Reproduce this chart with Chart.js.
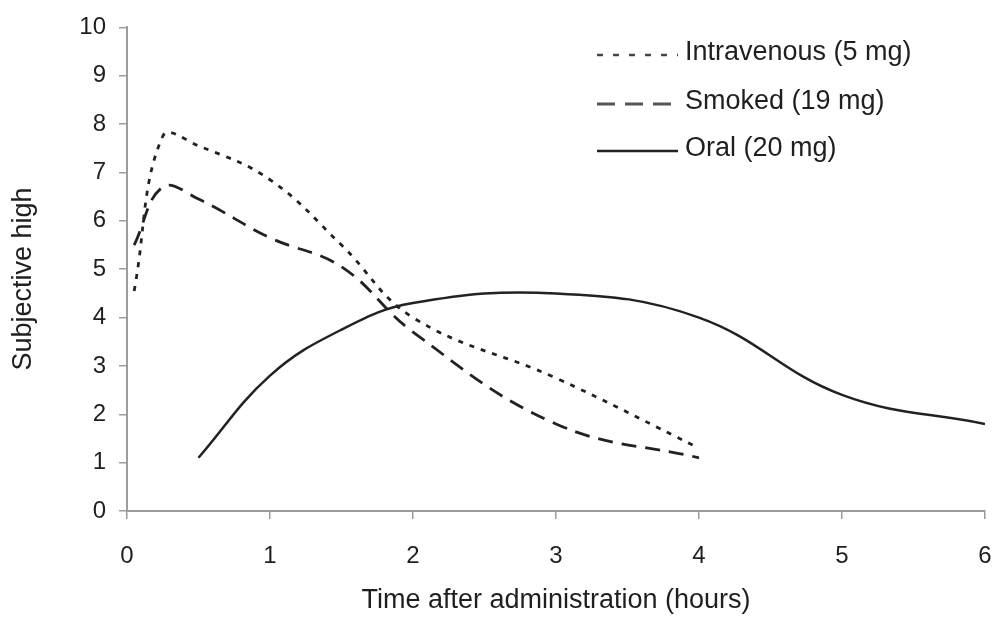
<!DOCTYPE html>
<html>
<head>
<meta charset="utf-8">
<title>Subjective high after administration</title>
<script src="https://cdn.jsdelivr.net/npm/chart.js@4.4.1/dist/chart.umd.min.js"></script>
<style>
  html, body { margin: 0; padding: 0; background: #ffffff; }
  #wrap { width: 998px; height: 617px; position: relative; }
</style>
</head>
<body>
<div id="wrap"><canvas id="chart"></canvas></div>
<script>
// Time points (hours) and mean subjective "high" ratings for each route
const ivTimes = [0.05, 0.25, 0.5, 1, 1.5, 2, 3, 4];
const ivHigh = [4.55, 7.75, 7.55, 6.85, 5.5, 4.0, 2.75, 1.3];

const smokedTimes = [0.05, 0.25, 0.5, 1, 1.5, 2, 3, 4];
const smokedHigh = [5.5, 6.7, 6.45, 5.65, 5.05, 3.7, 1.8, 1.1];

const oralTimes = [0.5, 1, 1.5, 2, 3, 4, 5, 6];
const oralHigh = [1.1, 2.8, 3.75, 4.3, 4.5, 4.0, 2.4, 1.8];

const seriesNames = ['Intravenous (5 mg)', 'Smoked (19 mg)', 'Oral (20 mg)'];
const xTitle = 'Time after administration (hours)';
const yTitle = 'Subjective high';
const xTicks = [0, 1, 2, 3, 4, 5, 6];
const yTicks = [0, 1, 2, 3, 4, 5, 6, 7, 8, 9, 10];

const FONT = "'Liberation Sans', Arial, Helvetica, sans-serif";
const TEXT = '#1f1f1f';
const AXIS = '#9c9c9c';

const toPoints = (xs, ys) => xs.map((x, i) => ({ x: x, y: ys[i] }));

// Legend drawn as a stacked list in the upper right of the plot,
// plus the vertical axis title placed beside the value axis
const legendStyles = [
  { dash: [6, 10], color: '#444444', width: 2.5 },
  { dash: [18, 10], color: '#555555', width: 3 },
  { dash: [], color: '#222222', width: 2.5 }
];
const annotations = {
  id: 'annotations',
  afterDraw(chart) {
    const ctx = chart.ctx;
    const rows = [53, 102, 149];
    ctx.save();
    ctx.font = '27px ' + FONT;
    ctx.fillStyle = TEXT;
    ctx.textBaseline = 'middle';
    ctx.textAlign = 'left';
    seriesNames.forEach((name, i) => {
      const s = legendStyles[i];
      ctx.beginPath();
      ctx.setLineDash(s.dash);
      ctx.lineWidth = s.width;
      ctx.strokeStyle = s.color;
      ctx.moveTo(597, rows[i] + 2);
      ctx.lineTo(678, rows[i] + 2);
      ctx.stroke();
      ctx.setLineDash([]);
      ctx.fillText(name, 685, rows[i]);
    });
    ctx.translate(24, 279);
    ctx.rotate(-Math.PI / 2);
    ctx.textAlign = 'center';
    ctx.fillText(yTitle, 0, 0);
    ctx.restore();
  }
};

new Chart(document.getElementById('chart'), {
  type: 'line',
  data: {
    datasets: [
      {
        label: seriesNames[0],
        data: toPoints(ivTimes, ivHigh),
        borderColor: '#222222',
        borderWidth: 2.8,
        borderDash: [5, 7],
        tension: 0.4
      },
      {
        label: seriesNames[1],
        data: toPoints(smokedTimes, smokedHigh),
        borderColor: '#222222',
        borderWidth: 2.8,
        borderDash: [15, 9],
        tension: 0.4
      },
      {
        label: seriesNames[2],
        data: toPoints(oralTimes, oralHigh),
        borderColor: '#222222',
        borderWidth: 2.5,
        tension: 0.4
      }
    ]
  },
  options: {
    responsive: true,
    maintainAspectRatio: false,
    animation: false,
    events: [],
    elements: { point: { radius: 0 }, line: { fill: false, borderCapStyle: 'butt' } },
    layout: { padding: { left: 0, right: 13, top: 22, bottom: 0 } },
    plugins: {
      legend: { display: false },
      tooltip: { enabled: false }
    },
    scales: {
      x: {
        type: 'linear',
        min: 0,
        max: 6,
        afterFit(scale) {
          scale.height = 106;
          scale.paddingLeft = 0;
          scale.paddingRight = 0;
        },
        afterBuildTicks(scale) { scale.ticks = xTicks.map(v => ({ value: v })); },
        grid: { drawOnChartArea: false, drawTicks: true, tickLength: 8, color: AXIS, lineWidth: 1.5 },
        border: { display: true, color: AXIS, width: 2 },
        ticks: { color: TEXT, font: { family: FONT, size: 24 }, padding: 23, maxRotation: 0 },
        title: {
          display: true,
          text: xTitle,
          color: TEXT,
          font: { family: FONT, size: 27 },
          padding: { top: 0, bottom: 0 }
        }
      },
      y: {
        type: 'linear',
        min: 0,
        max: 10,
        afterFit(scale) { scale.width = 127; },
        afterBuildTicks(scale) { scale.ticks = yTicks.map(v => ({ value: v })); },
        grid: { drawOnChartArea: false, drawTicks: true, tickLength: 8, color: AXIS, lineWidth: 1.5 },
        border: { display: true, color: AXIS, width: 2 },
        ticks: { color: TEXT, font: { family: FONT, size: 24 }, padding: 13 },
        title: { display: false }
      }
    }
  },
  plugins: [annotations]
});
</script>
</body>
</html>
